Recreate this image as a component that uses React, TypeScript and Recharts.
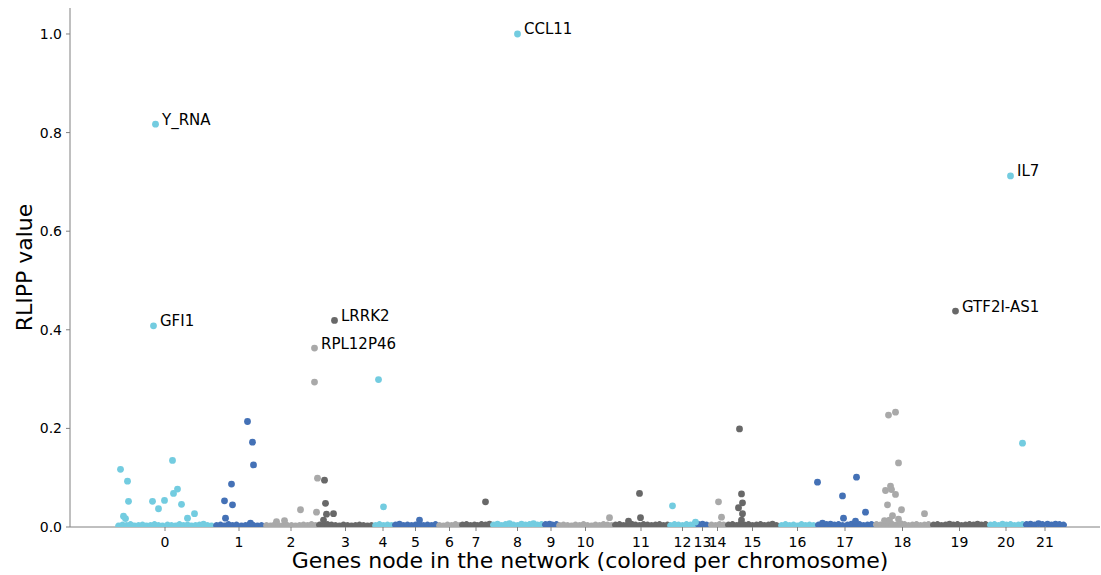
import { ScatterChart, Scatter, XAxis, YAxis, Label } from 'recharts'

// chromosome order along the x axis, and how many genes each one holds
const chromosomes = ['0', '1', '2', '3', '4', '5', '6', '7', '8', '9', '10', '11', '12', '13', '14', '15', '16', '17', '18', '19', '20', '21']
const geneCounts = [98, 50, 54, 55, 20, 45, 23, 30, 53, 14, 55, 56, 27, 13, 17, 53, 37, 58, 57, 57, 36, 42]
const chromColors = ['#73cce0', '#4471b6', '#a9a9a9', '#686868']

// low RLIPP values that make up the band along the bottom, per chromosome
const baselineValues = [
  [0.002, 0.004, 0.003, 0.005, 0.002, 0.003, 0.004, 0.002, 0.003, 0.005, 0.003, 0.002, 0.004, 0.003, 0.002, 0.005, 0.003, 0.004, 0.002, 0.003, 0.004, 0.006, 0.003, 0.002],
  [0.003, 0.004, 0.002, 0.005, 0.003, 0.004, 0.002, 0.003, 0.005, 0.003, 0.002, 0.003],
  [0.003, 0.002, 0.004, 0.003, 0.002, 0.004, 0.003, 0.002, 0.003, 0.004, 0.003, 0.005, 0.003],
  [0.004, 0.003, 0.005, 0.004, 0.003, 0.002, 0.004, 0.003, 0.002, 0.003, 0.004, 0.003, 0.002, 0.003],
  [0.003, 0.005, 0.003, 0.004, 0.003],
  [0.004, 0.006, 0.003, 0.004, 0.003, 0.004, 0.005, 0.003, 0.004, 0.003, 0.005],
  [0.003, 0.002, 0.004, 0.003, 0.005, 0.003],
  [0.004, 0.005, 0.003, 0.004, 0.003, 0.005, 0.004, 0.006],
  [0.004, 0.006, 0.003, 0.005, 0.007, 0.004, 0.003, 0.006, 0.004, 0.005, 0.007, 0.004, 0.005],
  [0.005, 0.006, 0.004, 0.005],
  [0.003, 0.004, 0.003, 0.002, 0.004, 0.003, 0.005, 0.003, 0.002, 0.004, 0.003, 0.005, 0.004, 0.003],
  [0.004, 0.005, 0.003, 0.004, 0.006, 0.004, 0.003, 0.005, 0.004, 0.003, 0.004, 0.005, 0.003, 0.004],
  [0.003, 0.005, 0.004, 0.003, 0.005, 0.004, 0.006],
  [0.005, 0.006, 0.004],
  [0.004, 0.003, 0.005, 0.004],
  [0.004, 0.005, 0.003, 0.006, 0.004, 0.005, 0.003, 0.004, 0.005, 0.003, 0.004, 0.006, 0.003],
  [0.003, 0.005, 0.003, 0.004, 0.002, 0.005, 0.003, 0.004, 0.003],
  [0.004, 0.003, 0.005, 0.006, 0.004, 0.005, 0.003, 0.004, 0.006, 0.004, 0.005, 0.003, 0.004, 0.005],
  [0.005, 0.004, 0.003, 0.006, 0.005, 0.004, 0.007, 0.005, 0.003, 0.004, 0.005, 0.003, 0.004, 0.005],
  [0.004, 0.005, 0.003, 0.004, 0.006, 0.004, 0.005, 0.003, 0.004, 0.005, 0.004, 0.006, 0.004, 0.005],
  [0.004, 0.005, 0.003, 0.006, 0.004, 0.005, 0.003, 0.004, 0.005],
  [0.005, 0.006, 0.004, 0.007, 0.005, 0.006, 0.004, 0.006, 0.005, 0.004],
]

// [chromosome, gene within chromosome, RLIPP value]
const raisedGenes: [number, number, number][] = [
  [0, 4, 0.117], [0, 11, 0.093], [0, 12, 0.052], [0, 7, 0.022], [0, 9, 0.017], [0, 36, 0.052], [0, 42, 0.037],
  [0, 48, 0.054], [0, 56, 0.135], [0, 57, 0.068], [0, 61, 0.077], [0, 65, 0.046], [0, 71, 0.018], [0, 78, 0.027],
  [1, 33, 0.214], [1, 38, 0.172], [1, 39, 0.126], [1, 17, 0.087], [1, 10, 0.053], [1, 18, 0.045], [1, 11, 0.018], [1, 36, 0.008],
  [2, 50, 0.294], [2, 53, 0.099], [2, 36, 0.035], [2, 52, 0.030], [2, 12, 0.011], [2, 20, 0.013],
  [3, 6, 0.095], [3, 7, 0.048], [3, 8, 0.026], [3, 15, 0.027], [3, 5, 0.014],
  [4, 5, 0.299], [4, 10, 0.041],
  [5, 26, 0.014],
  [7, 24, 0.051],
  [10, 51, 0.019],
  [11, 26, 0.068], [11, 27, 0.019], [11, 15, 0.012],
  [12, 3, 0.043], [12, 26, 0.010],
  [14, 9, 0.051], [14, 12, 0.020],
  [15, 13, 0.199], [15, 15, 0.067], [15, 16, 0.049], [15, 12, 0.039], [15, 16, 0.027], [15, 15, 0.014],
  [17, 1, 0.091], [17, 26, 0.063], [17, 40, 0.101], [17, 27, 0.018], [17, 49, 0.030], [17, 39, 0.012], [17, 6, 0.008],
  [18, 14, 0.227], [18, 21, 0.233], [18, 24, 0.130], [18, 11, 0.074], [18, 16, 0.083], [18, 17, 0.076], [18, 21, 0.066],
  [18, 13, 0.045], [18, 27, 0.035], [18, 50, 0.027], [18, 18, 0.023], [18, 10, 0.013], [18, 24, 0.016], [18, 15, 0.014],
  [20, 34, 0.170],
]

// annotated genes: [name, chromosome, gene within chromosome, RLIPP value]
const namedGenes: [string, number, number, number][] = [
  ['CCL11', 8, 26, 1.0],
  ['Y_RNA', 0, 39, 0.817],
  ['IL7', 20, 22, 0.712],
  ['GTF2I-AS1', 19, 24, 0.438],
  ['LRRK2', 3, 16, 0.419],
  ['GFI1', 0, 37, 0.408],
  ['RPL12P46', 2, 50, 0.363],
]

const yTicks = [0, 0.2, 0.4, 0.6, 0.8, 1.0]

const starts: number[] = []
geneCounts.reduce((acc, n) => { starts.push(acc); return acc + n }, 0)
const tickPositions = geneCounts.map((n, i) => starts[i] + n / 2)

type Pt = { x: number; y: number; color: string; label?: string }

const points: Pt[] = []
baselineValues.forEach((vals, c) => {
  vals.forEach((v, i) => {
    const g = Math.floor(((i + 0.5) * geneCounts[c]) / vals.length)
    points.push({ x: starts[c] + g + 0.5, y: v, color: chromColors[c % 4] })
  })
})
raisedGenes.forEach(([c, g, v]) => points.push({ x: starts[c] + g + 0.5, y: v, color: chromColors[c % 4] }))
namedGenes.forEach(([name, c, g, v]) => points.push({ x: starts[c] + g + 0.5, y: v, color: chromColors[c % 4], label: name }))

const FONT = 'DejaVu Sans'
const BASE_Y = 527
const R = 3.4

function GeneDot(props: any) {
  const { cx, cy, payload } = props
  if (cx == null || cy == null) return null
  let mark
  if (cy + R <= BASE_Y) {
    mark = <circle cx={cx} cy={cy} r={R} fill={payload.color} />
  } else {
    // clip the part of the dot that falls below the x axis
    const h = BASE_Y - cy
    if (h <= -R) return null
    const dx = Math.sqrt(R * R - h * h)
    const large = h > 0 ? 1 : 0
    mark = <path d={`M${cx - dx},${BASE_Y} A${R},${R} 0 ${large} 1 ${cx + dx},${BASE_Y} Z`} fill={payload.color} />
  }
  return (
    <g>
      {mark}
      {payload.label && (
        <text x={cx + 6.5} y={cy + 0.5} fontSize={15} fontFamily={FONT} fill="#000">{payload.label}</text>
      )}
    </g>
  )
}

export default function App() {
  return (
    <div style={{ position: 'absolute', left: 0, top: 0, fontFamily: FONT }}>
      <ScatterChart width={1101} height={575} margin={{ top: 8, right: 1, bottom: 0, left: 0 }}>
        <XAxis
          type="number"
          dataKey="x"
          domain={[-46, 984]}
          ticks={tickPositions}
          interval={0}
          tickFormatter={(_v: number, i: number) => chromosomes[i]}
          height={48}
          tickSize={4}
          tickMargin={6}
          stroke="#808080"
          tick={{ fontSize: 14, fill: '#000', fontFamily: FONT }}
        >
          <Label value="Genes node in the network (colored per chromosome)" position="insideBottom" offset={7} dx={5}
            style={{ fontSize: 22, fill: '#000', fontFamily: FONT }} />
        </XAxis>
        <YAxis
          type="number"
          dataKey="y"
          domain={[0, 1.0527]}
          ticks={yTicks}
          tickFormatter={(v: number) => v.toFixed(1)}
          width={70}
          tickSize={4}
          tickMargin={4}
          stroke="#808080"
          tick={{ fontSize: 14, fill: '#000', fontFamily: FONT }}
        >
          <Label value="RLIPP value" angle={-90} position="center" dx={-11}
            style={{ fontSize: 22, fill: '#000', fontFamily: FONT }} />
        </YAxis>
        <Scatter data={points} shape={GeneDot} isAnimationActive={false} />
      </ScatterChart>
    </div>
  )
}
